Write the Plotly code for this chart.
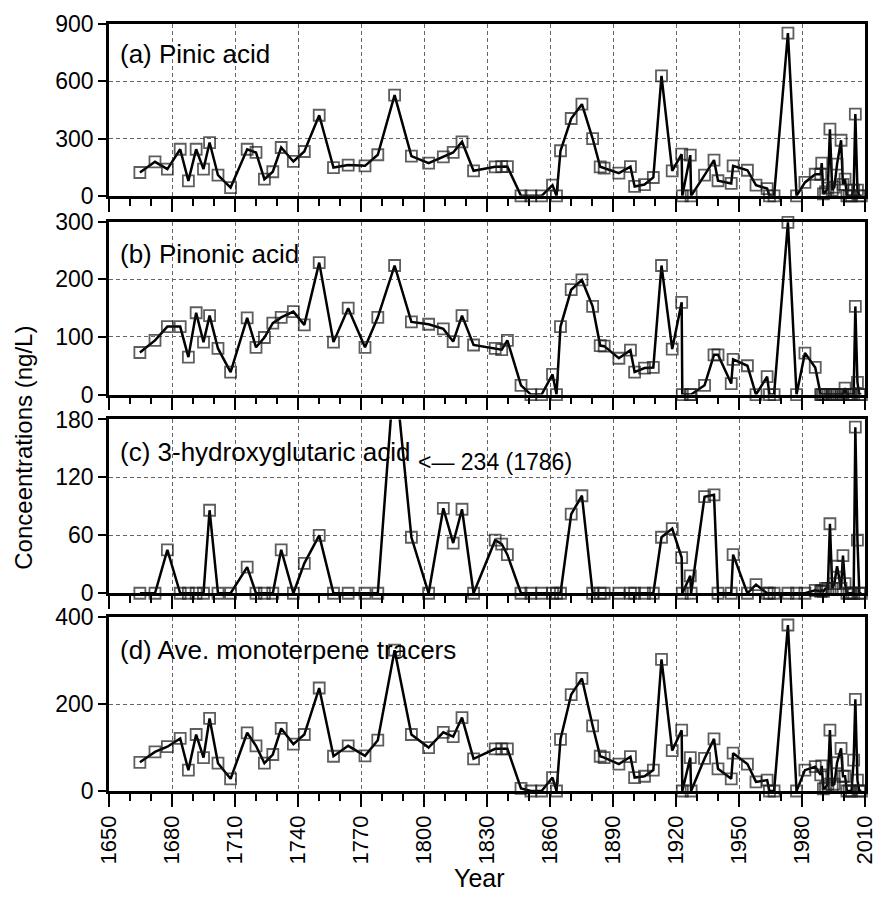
import plotly.graph_objects as go

# ---------------- data ----------------
years = [
    1664.7, 1671.9, 1677.8, 1683.9, 1687.8, 1691.5, 1695.0, 1697.9, 1701.9, 1707.9,
    1715.8, 1720.0, 1724.0, 1728.0, 1732.0, 1737.8, 1743.0, 1750.1, 1756.9, 1763.9,
    1771.9, 1778.0, 1786.0, 1794.0, 1802.2, 1809.2, 1813.9, 1818.1, 1823.6, 1833.9,
    1837.0, 1839.7, 1846.2, 1850.9, 1856.0, 1861.2, 1863.1, 1865.0, 1870.1, 1875.2,
    1880.3, 1883.9, 1885.8, 1892.8, 1898.3, 1900.3, 1905.0, 1909.2, 1913.1, 1918.2,
    1922.7, 1923.0, 1926.8, 1927.2, 1933.6, 1938.1, 1940.0, 1946.3, 1947.2, 1954.0,
    1958.1, 1963.4, 1964.5, 1966.7, 1973.3, 1977.4, 1981.4, 1986.3, 1988.9, 1989.4,
    1990.2, 1991.2, 1992.3, 1993.3, 1994.4, 1995.4, 1996.7, 1998.6, 1999.5, 2000.5,
    2001.4, 2002.5, 2003.6, 2004.6, 2005.4, 2006.4, 2007.3, 2008.3,
]

pinic = [
    122, 178, 140, 244, 78, 244, 140, 279, 108, 43,
    244, 227, 87, 126, 253, 180, 232, 422, 148, 161,
    157, 215, 527, 208, 171, 204, 227, 283, 131, 152,
    153, 153, 0, 0, 0, 56, 0, 236, 405, 480,
    300, 152, 145, 119, 153, 49, 59, 96, 628, 131,
    218, 0, 213, 0, 108, 187, 79, 65, 157, 134,
    56, 38, 0, 0, 852, 0, 70, 113, 113, 171,
    10, 20, 40, 349, 30, 45, 166, 291, 60, 87,
    0, 0, 0, 30, 428, 30, 0, 0,
]

pinonic = [
    73, 94, 118, 118, 65, 142, 91, 137, 80, 39,
    133, 82, 99, 124, 134, 144, 121, 229, 91, 150,
    82, 134, 224, 126, 122, 114, 92, 137, 86, 80,
    78, 94, 16, 0, 0, 35, 0, 118, 182, 199,
    153, 85, 84, 63, 77, 39, 46, 47, 224, 79,
    160, 0, 0, 0, 16, 69, 69, 19, 61, 50,
    0, 31, 0, 0, 299, 0, 72, 47, 0, 0,
    0, 0, 0, 0, 0, 0, 0, 0, 0, 11,
    0, 0, 0, 0, 153, 21, 0, 0,
]

hydroxyglutaric = [
    0, 0, 45, 0, 0, 0, 0, 86, 0, 0,
    27, 0, 0, 0, 45, 0, 31, 60, 0, 0,
    0, 0, 234, 58, 0, 88, 52, 87, 0, 55,
    51, 40, 0, 0, 0, 0, 0, 0, 82, 101,
    0, 0, 0, 0, 0, 0, 0, 0, 58, 67,
    37, 0, 18, 0, 100, 102, 0, 0, 40, 0,
    9, 0, 0, 0, 0, 0, 0, 3, 2, 3,
    2, 5, 5, 72, 5, 10, 28, 5, 39, 10,
    0, 0, 0, 0, 172, 55, 0, 0,
]

ave_monoterpene = [
    66, 90, 102, 121, 48, 130, 77, 167, 64, 28,
    134, 104, 64, 84, 144, 108, 130, 237, 80, 104,
    81, 117, 324, 130, 100, 135, 125, 169, 74, 97,
    97, 97, 6, 0, 0, 31, 0, 119, 222, 259,
    150, 80, 77, 62, 79, 31, 34, 48, 303, 93,
    140, 0, 77, 0, 75, 120, 51, 28, 87, 62,
    21, 25, 0, 0, 382, 0, 48, 56, 37, 58,
    5, 8, 16, 140, 12, 16, 65, 98, 34, 34,
    0, 0, 0, 71, 211, 25, 0, 0,
]

panel_labels = ["(a) Pinic acid", "(b) Pinonic acid",
                "(c) 3-hydroxyglutaric acid", "(d) Ave. monoterpene tracers"]
y_ranges = [[0, 900], [0, 300], [0, 180], [0, 400]]
y_dticks = [300, 100, 60, 200]
x_range = [1650, 2010]
x_dtick = 30
off_scale_note = "&#60;\u2014 234 (1786)"
y_title = "Conceentrations (ng/L)"
x_title = "Year"

# ---------------- styling ----------------
FONT = "Liberation Sans, Arial, sans-serif"
domains = [[0.7760, 1.0], [0.5169, 0.7422], [0.2578, 0.4844], [0.0, 0.2266]]
label_ypos = [0.826, 0.815, 0.813, 0.812]
grid = dict(showgrid=True, gridcolor="#666666", gridwidth=1, griddash="4px,3px")
frame = dict(showline=True, linewidth=2.6, linecolor="black", mirror=True, zeroline=False)

fig = go.Figure()
series = [pinic, pinonic, hydroxyglutaric, ave_monoterpene]
layout_upd = {}
annotations = []
for i, vals in enumerate(series):
    n = i + 1
    xa = "x" if n == 1 else f"x{n}"
    ya = "y" if n == 1 else f"y{n}"
    ymax = y_ranges[i][1]
    sizes = [11 if v <= ymax else 0 for v in vals]
    fig.add_trace(go.Scatter(
        x=years, y=vals, xaxis=xa, yaxis=ya, mode="lines+markers",
        line=dict(color="black", width=2.5),
        marker=dict(symbol="square-open", size=sizes, color="#1a1a1a",
                    line=dict(width=1.8, color="#1a1a1a")),
        cliponaxis=False, showlegend=False, hoverinfo="x+y",
    ))
    layout_upd["xaxis" if n == 1 else f"xaxis{n}"] = dict(
        domain=[0, 1], range=x_range, anchor=ya,
        tickmode="linear", tick0=x_range[0], dtick=x_dtick,
        ticks="outside", ticklen=13, tickwidth=2.2, tickcolor="black",
        showticklabels=(n == 4), tickangle=-90,
        tickfont=dict(size=22, color="black", family=FONT),
        minor=dict(tick0=x_range[0], dtick=10, ticks="outside", ticklen=7,
                   tickwidth=2.2, tickcolor="black", showgrid=False),
        **grid, **frame,
    )
    layout_upd["yaxis" if n == 1 else f"yaxis{n}"] = dict(
        domain=domains[i], range=y_ranges[i], anchor=xa,
        tickmode="linear", tick0=0, dtick=y_dticks[i],
        ticks="outside", ticklen=8, tickwidth=2.2, tickcolor="black",
        tickfont=dict(size=23, color="black", family=FONT),
        **grid, **frame,
    )
    annotations.append(dict(
        text=panel_labels[i], xref=f"{xa} domain", yref=f"{ya} domain",
        x=0.012, y=label_ypos[i], xanchor="left", yanchor="middle",
        showarrow=False, font=dict(size=26, color="black", family=FONT),
    ))

annotations.append(dict(
    text=off_scale_note, xref="x3", yref="y3", x=1796, y=136,
    xanchor="left", yanchor="middle", showarrow=False,
    font=dict(size=23, color="black", family=FONT),
))
annotations.append(dict(
    text=y_title, xref="paper", yref="paper", x=-0.113, y=0.447,
    xanchor="center", yanchor="middle", textangle=-90, showarrow=False,
    font=dict(size=24, color="black", family=FONT),
))
annotations.append(dict(
    text=x_title, xref="paper", yref="paper", x=0.49, y=-0.113,
    xanchor="center", yanchor="middle", showarrow=False,
    font=dict(size=25, color="black", family=FONT),
))

fig.update_layout(
    width=888, height=915,
    margin=dict(l=109, r=11, t=23, b=124),
    plot_bgcolor="white", paper_bgcolor="white",
    font=dict(family=FONT, color="black"),
    annotations=annotations,
    **layout_upd,
)

fig.write_html("out.html")
